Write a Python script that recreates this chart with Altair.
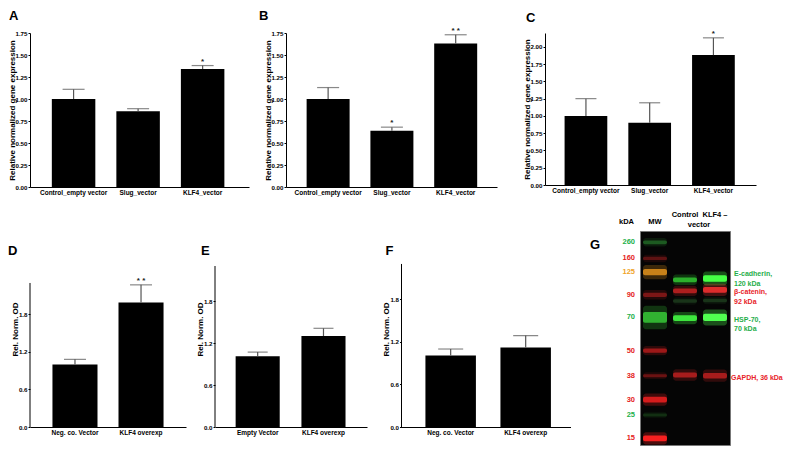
import altair as alt
import pandas as pd

FONT = "Liberation Sans"

# ---------------- data: qPCR panels (A-C) ----------------
abc_cats = ["Control_empty vector", "Slug_vector", "KLF4_vector"]
a_mean = [1.00, 0.86, 1.34]
a_err = [0.11, 0.03, 0.04]
a_sig = ["", "", "*"]
b_mean = [1.00, 0.64, 1.63]
b_err = [0.13, 0.04, 0.10]
b_sig = ["", "*", "* *"]
c_mean = [1.00, 0.90, 1.88]
c_err = [0.25, 0.29, 0.25]
c_sig = ["", "", "*"]
qpcr_ticks = [0, 0.25, 0.5, 0.75, 1.0, 1.25, 1.5, 1.75]
qpcr_ticks_c = [0, 0.25, 0.5, 0.75, 1.0, 1.25, 1.5, 1.75, 2.0]

# ---------------- data: densitometry panels (D-F) ----------------
d_cats = ["Neg. co. Vector", "KLF4 overexp"]
d_mean = [1.00, 1.99]
d_err = [0.08, 0.28]
d_sig = ["", "* *"]
e_cats = ["Empty Vector", "KLF4 overexp"]
e_mean = [1.01, 1.30]
e_err = [0.06, 0.11]
e_sig = ["", ""]
f_cats = ["Neg. co. Vector", "KLF4 overexp"]
f_mean = [1.01, 1.12]
f_err = [0.09, 0.17]
f_sig = ["", ""]
od_ticks = [0, 0.6, 1.2, 1.8]
od_axis_max = 2.3

# ---------------- data: western blot (G) ----------------
lanes = ["MW", "Control", "KLF4"]
ladder_kda = ["260", "160", "125", "90", "70", "50", "38", "30", "25", "15"]
ladder_mig = [0.053, 0.128, 0.192, 0.298, 0.404, 0.559, 0.676, 0.788, 0.860, 0.969]
ladder_band_color = ["#2f9a35", "#b01e1e", "#e0901c", "#c42020", "#3ad23a", "#d82020",
                     "#b81c1c", "#f02020", "#2a7a2a", "#ff2222"]
ladder_text_color = ["#22b04a", "#e52222", "#f0a428", "#e52222", "#22b04a", "#e52222",
                     "#e52222", "#e52222", "#22b04a", "#e52222"]
ladder_intensity = [0.5, 0.45, 0.85, 0.55, 0.8, 0.65, 0.5, 0.85, 0.3, 0.95]
ladder_spread = [0.018, 0.016, 0.03, 0.02, 0.05, 0.02, 0.014, 0.026, 0.014, 0.026]

band_target = ["E-cadherin", "E-cadherin", "β-catenin", "β-catenin", "unspecific", "unspecific",
               "HSP-70", "HSP-70", "GAPDH", "GAPDH"]
band_lane = ["Control", "KLF4"] * 5
band_mig = [0.228, 0.222, 0.280, 0.275, 0.327, 0.325, 0.407, 0.404, 0.673, 0.676]
band_color = ["#33d033", "#45ff45", "#d82626", "#f03030", "#2f6a2f", "#2f6a2f",
              "#40ee40", "#50ff50", "#d82424", "#d82424"]
band_intensity = [0.8, 1.0, 0.75, 0.9, 0.4, 0.4, 0.95, 1.0, 0.7, 0.7]
band_spread = [0.022, 0.03, 0.022, 0.026, 0.016, 0.016, 0.026, 0.034, 0.024, 0.026]

label_text = ["E-cadherin,\n120 kDa", "β-catenin,\n92 kDa", "HSP-70,\n70 kDa", "GAPDH, 36 kDa"]
label_target = ["E-cadherin", "β-catenin", "HSP-70", "GAPDH"]
label_color = ["#1fae4a", "#e8242a", "#1fae4a", "#e8242a"]


def bar_panel(cats, mean, err, sig, ymax, ticks, fmt, ytitle, letter, width, height,
              p_in, p_out, align, cap, lx, ly, title_pad, axis_max=None):
    df = pd.DataFrame({"cat": cats, "mean": mean, "err": err, "sig": sig})
    df["top"] = df["mean"] + df["err"]
    xscale = alt.Scale(paddingInner=p_in, paddingOuter=p_out, align=align)
    xaxis = alt.Axis(title=None, labelAngle=0, ticks=False, labelPadding=2,
                     labelFontSize=6.5, labelFontWeight="bold", labelFont=FONT,
                     labelColor="black", domainColor="black", domainWidth=1)
    yscale = alt.Scale(domain=[0, ymax], nice=False, zero=True)
    yaxis = alt.Axis(title=ytitle, values=ticks, format=fmt, grid=False, tickSize=2,
                     tickColor="black", domain=axis_max is None, domainColor="black",
                     domainWidth=1, labelFontSize=6.2, labelFontWeight="bold",
                     labelFont=FONT, labelColor="black", labelPadding=1, titleFontSize=8,
                     titleFontWeight="bold", titleFont=FONT, titleColor="black",
                     titlePadding=title_pad)
    x = alt.X("cat:N", sort=cats, scale=xscale, axis=xaxis)

    def y(f):
        return alt.Y(f + ":Q", scale=yscale, axis=yaxis)

    base = alt.Chart(df)
    bars = base.mark_bar(color="black").encode(x=x, y=y("mean"))
    whisk = base.mark_rule(color="#555555", strokeWidth=1.2).encode(
        x=x, y=y("mean"), y2="top:Q")
    caps = base.mark_tick(color="#555555", thickness=1.2, size=cap,
                          orient="horizontal").encode(x=x, y=y("top"))
    stars = base.mark_text(baseline="alphabetic", dy=-2, fontSize=8, fontWeight="bold",
                           font=FONT, color="#222222").encode(x=x, y=y("top"), text="sig:N")
    lab = alt.Chart(pd.DataFrame({"t": [letter]})).mark_text(
        align="left", baseline="top", fontSize=13, fontWeight="bold", font=FONT,
        color="black").encode(x=alt.value(lx), y=alt.value(ly), text="t:N")
    layers = [bars, whisk, caps, stars, lab]
    if axis_max is not None:
        dom = alt.Chart(pd.DataFrame({"lo": [0.0], "hi": [axis_max]})).mark_rule(
            color="black", strokeWidth=1).encode(
            x=alt.value(0), y=alt.Y("lo:Q", scale=yscale, axis=yaxis), y2="hi:Q")
        layers.append(dom)
    return alt.layer(*layers).properties(
        width=width, height=height,
        view=alt.ViewBackground(strokeOpacity=0, strokeWidth=0))


def blot_panel():
    lad = pd.DataFrame({"lane": "MW", "kda": ladder_kda, "mig": ladder_mig,
                        "col": ladder_band_color, "tcol": ladder_text_color,
                        "inten": ladder_intensity, "spread": ladder_spread})
    smp = pd.DataFrame({"lane": band_lane, "target": band_target, "mig": band_mig,
                        "col": band_color, "inten": band_intensity, "spread": band_spread})
    bands = pd.concat([lad[["lane", "mig", "col", "inten", "spread"]],
                       smp[["lane", "mig", "col", "inten", "spread"]]], ignore_index=True)
    bands["lo"] = bands["mig"] - bands["spread"] / 2
    bands["hi"] = bands["mig"] + bands["spread"] / 2
    bands["glo"] = bands["mig"] - bands["spread"] * 1.1
    bands["ghi"] = bands["mig"] + bands["spread"] * 1.1
    bands["gint"] = bands["inten"] * 0.3

    xs = alt.Scale(domain=lanes, paddingInner=0.2, paddingOuter=0.1)
    ys = alt.Scale(domain=[0, 1], reverse=True, nice=False, zero=False)
    X = alt.X("lane:N", scale=xs, axis=None)

    def Y(f):
        return alt.Y(f + ":Q", scale=ys, axis=None)

    glow = alt.Chart(bands).mark_rect(cornerRadius=3).encode(
        x=X, y=Y("glo"), y2="ghi:Q", color=alt.Color("col:N", scale=None),
        opacity=alt.Opacity("gint:Q", scale=None))
    core = alt.Chart(bands).mark_rect(cornerRadius=2).encode(
        x=X, y=Y("lo"), y2="hi:Q", color=alt.Color("col:N", scale=None),
        opacity=alt.Opacity("inten:Q", scale=None))
    kda_lab = alt.Chart(lad).mark_text(align="right", baseline="middle", fontSize=7.5,
                                       fontWeight="bold", font=FONT).encode(
        x=alt.value(-5), y=Y("mig"), text="kda:N", color=alt.Color("tcol:N", scale=None))

    hdr_style = dict(fontSize=7.5, fontWeight="bold", font=FONT, color="black",
                     baseline="middle")
    hdr_kda = alt.Chart(pd.DataFrame({"t": ["kDA"]})).mark_text(align="right", **hdr_style).encode(
        x=alt.value(-6), y=alt.value(-9), text="t:N")
    hdr_mw = alt.Chart(pd.DataFrame({"lane": ["MW"], "t": ["MW"]})).mark_text(**hdr_style).encode(
        x=X, y=alt.value(-9), text="t:N")
    hdr_lanes = alt.Chart(pd.DataFrame({"lane": ["Control", "KLF4"],
                                        "t": ["Control", "KLF4 –"]})).mark_text(**hdr_style).encode(
        x=X, y=alt.value(-16), text="t:N")
    hdr_vec = alt.Chart(pd.DataFrame({"lane": ["Control"], "t": ["vector"]})).mark_text(
        dx=14, **hdr_style).encode(x=X, y=alt.value(-6), text="t:N")
    letter = alt.Chart(pd.DataFrame({"t": ["G"]})).mark_text(
        align="left", baseline="top", fontSize=13, fontWeight="bold", font=FONT,
        color="black").encode(x=alt.value(-50), y=alt.value(8), text="t:N")

    lab_layers = []
    shifts = [(-5, 0), (2, 0), (2, 0), (3, -3)]
    for txt, tgt, col, (dy, dx) in zip(label_text, label_target, label_color, shifts):
        mig = smp[smp["target"] == tgt]["mig"].mean()
        dfl = pd.DataFrame({"t": [txt], "mig": [mig]})
        lab_layers.append(alt.Chart(dfl).mark_text(
            align="left", baseline="middle", lineBreak="\n", lineHeight=9.5, fontSize=7,
            fontWeight="bold", font=FONT, color=col, dy=dy, dx=dx).encode(
            x=alt.value(94), y=Y("mig"), text="t:N"))

    return alt.layer(glow, core, kda_lab, hdr_kda, hdr_mw, hdr_lanes, hdr_vec, letter,
                     *lab_layers).properties(
        width=90, height=214,
        view=alt.ViewBackground(fill="#050505", stroke="#777777", strokeWidth=1,
                                strokeOpacity=1))


ytq = "Relative normalized gene expression"
yto = "Rel. Norm. OD"

A = bar_panel(abc_cats, a_mean, a_err, a_sig, 1.75, qpcr_ticks, ".2f", ytq, "A",
              219, 154, 0.326, 0.36, 0.47, 22, -21, -23, -1.5)
B = bar_panel(abc_cats, b_mean, b_err, b_sig, 1.75, qpcr_ticks, ".2f", ytq, "B",
              211, 154, 0.326, 0.317, 0.51, 22, -27, -23, -1.5)
C = bar_panel(abc_cats, c_mean, c_err, c_sig, 2.2, qpcr_ticks_c, ".2f", ytq, "C",
              211, 152, 0.33, 0.32, 0.48, 21, -19, -21, -1.5)
D = bar_panel(d_cats, d_mean, d_err, d_sig, 3.13, od_ticks, ".1f", yto, "D",
              156, 196, 0.318, 0.34, 0.5, 22, -22, 14, -1, axis_max=od_axis_max)
E = bar_panel(e_cats, e_mean, e_err, e_sig, 2.8, od_ticks, ".1f", yto, "E",
              152, 196, 0.33, 0.32, 0.49, 20, -14, 14, -1, axis_max=od_axis_max)
F = bar_panel(f_cats, f_mean, f_err, f_sig, 2.765, od_ticks, ".1f", yto, "F",
              169, 196, 0.327, 0.29, 0.55, 25, -16, 14, -1, axis_max=od_axis_max)
G = blot_panel()

row1 = alt.hconcat(alt.hconcat(A, B, spacing=10), C, spacing=26)
row2 = alt.hconcat(alt.hconcat(alt.hconcat(D, E, spacing=10), F, spacing=15.5), G, spacing=18)

chart = alt.vconcat(row1, row2, spacing=14).properties(
    padding={"top": 2, "left": 0, "right": 0, "bottom": 0}, background="white"
).configure_view(strokeWidth=0).configure(font=FONT)

chart.save("out.html", embed_options={"renderer": "svg", "actions": False})
